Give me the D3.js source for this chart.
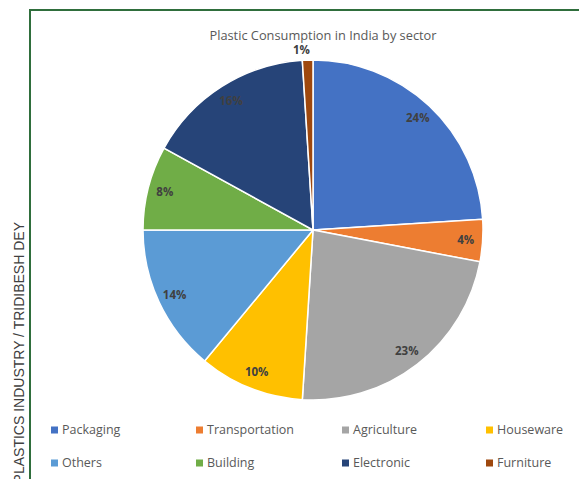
<!DOCTYPE html>
<html>
<head>
<meta charset="utf-8">
<script src="https://cdn.jsdelivr.net/npm/d3@7"></script>
<style>
  body { margin: 0; background: #fff; }
  svg { display: block; }
</style>
</head>
<body>
<div id="wrapper"></div>
<script>
// data
var sectors = ["Packaging", "Transportation", "Agriculture", "Houseware", "Others", "Building", "Electronic", "Furniture"];
var shares = [24, 4, 23, 10, 14, 8, 16, 1];
var colors = ["#4472C4", "#ED7D31", "#A5A5A5", "#FFC000", "#5B9BD5", "#70AD47", "#264478", "#9E480E"];

var dimension = { width: 579, height: 479 };
var cx = 313, cy = 230, radius = 170;

const wrapper = d3.select("#wrapper")
    .append("svg")
    .attr("width", dimension.width)
    .attr("height", dimension.height);

// green frame (runs off the right and bottom)
wrapper.append("rect")
    .attr("x", 30)
    .attr("y", 10)
    .attr("width", 600)
    .attr("height", 500)
    .attr("fill", "none")
    .attr("stroke", "#2f6e3c")
    .attr("stroke-width", 2);

// side caption, runs off the bottom edge like the original
wrapper.append("text")
    .attr("transform", "translate(19,222) rotate(-90)")
    .style("text-anchor", "end")
    .style("font-family", "'Liberation Sans', Arial, sans-serif")
    .style("font-size", "14px")
    .attr("dy", "0.35em")
    .attr("fill", "#404040")
    .text("PLASTICS INDUSTRY / TRIDIBESH DEY");

wrapper.append("text")
    .attr("x", 323)
    .attr("y", 40)
    .style("text-anchor", "middle")
    .style("font-family", "'Open Sans', sans-serif")
    .style("font-size", "12.8px")
    .attr("fill", "#595959")
    .text("Plastic Consumption in India by sector");

var color = d3.scaleOrdinal().domain(sectors).range(colors);

var pie = d3.pie().sort(null).value(d => d.value);
var data = pie(sectors.map((s, i) => ({ name: s, value: shares[i] })));

var arc = d3.arc().innerRadius(0).outerRadius(radius);
var labelArc = d3.arc().innerRadius(153).outerRadius(153);
var outerArc = d3.arc().innerRadius(180).outerRadius(180);

const bounds = wrapper.append("g")
    .attr("transform", `translate(${cx},${cy})`);

bounds.selectAll("path")
    .data(data)
    .enter()
    .append("path")
    .attr("d", arc)
    .attr("fill", d => color(d.data.name))
    .attr("stroke", "#fff")
    .attr("stroke-width", 1.5);

bounds.selectAll("text.lbl")
    .data(data)
    .enter()
    .append("text")
    .attr("class", "lbl")
    .attr("transform", d => {
        var p = d.data.value < 2 ? outerArc.centroid(d) : labelArc.centroid(d);
        if (d.data.value < 2) p[0] -= 6;
        return `translate(${p[0]},${p[1]})`;
    })
    .attr("dy", "0.35em")
    .style("text-anchor", "middle")
    .style("font-family", "'Open Sans', sans-serif")
    .style("font-size", "11.5px")
    .style("font-weight", "bold")
    .attr("fill", "#404040")
    .text(d => d.data.value + "%");

// legend, 4 per row
var colX = [51, 196, 342, 486];
var rowY = [430, 463];

const legend = wrapper.append("g")
    .selectAll("g")
    .data(sectors)
    .enter()
    .append("g")
    .attr("transform", (d, i) => `translate(${colX[i % 4]},${rowY[Math.floor(i / 4)]})`);

legend.append("rect")
    .attr("x", 0)
    .attr("y", -3.5)
    .attr("width", 7)
    .attr("height", 7)
    .attr("fill", d => color(d));

legend.append("text")
    .attr("x", 11)
    .attr("dy", "0.35em")
    .style("font-family", "'Open Sans', sans-serif")
    .style("font-size", "12.5px")
    .attr("fill", "#595959")
    .text(d => d);
</script>
</body>
</html>
